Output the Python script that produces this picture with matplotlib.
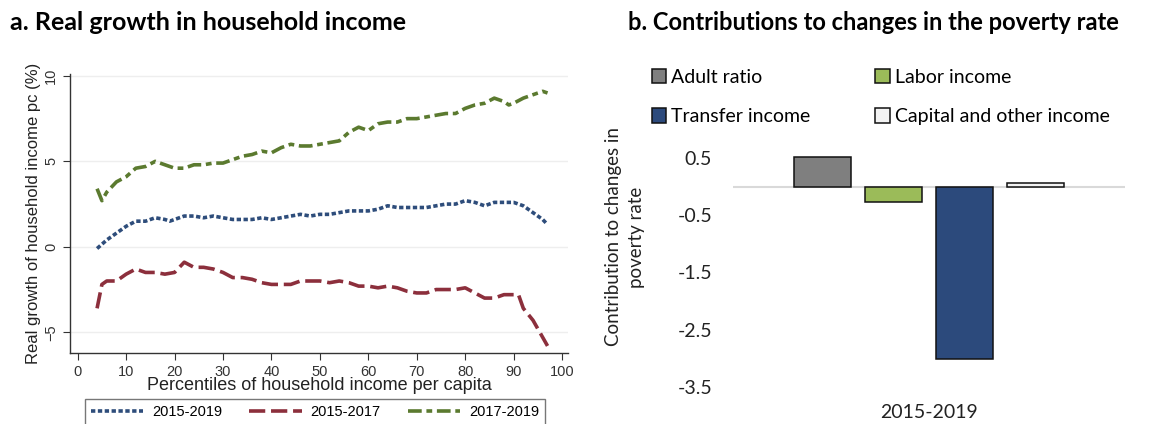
import matplotlib.pyplot as plt
from matplotlib.patches import Patch

# Panel a: real growth of household income per capita by percentile
pct_blue = [4, 6, 8, 10, 12, 14, 16, 18, 19, 20, 22, 24, 26, 28, 30, 32, 34, 36, 38, 40,
            42, 44, 46, 48, 50, 52, 54, 56, 58, 60, 62, 64, 66, 68, 70, 72, 74, 76, 78, 80,
            82, 84, 86, 88, 90, 92, 94, 96, 97]
growth_1519 = [-0.1, 0.4, 0.8, 1.2, 1.5, 1.5, 1.7, 1.6, 1.5, 1.6, 1.8, 1.8, 1.7, 1.8, 1.7, 1.6,
               1.6, 1.6, 1.7, 1.6, 1.7, 1.8, 1.9, 1.8, 1.9, 1.9, 2.0, 2.1, 2.1, 2.1, 2.2, 2.4,
               2.3, 2.3, 2.3, 2.3, 2.4, 2.5, 2.5, 2.7, 2.6, 2.4, 2.6, 2.6, 2.6, 2.4, 2.0, 1.6, 1.3]

pct_red = [4, 5, 6, 8, 10, 12, 14, 16, 18, 20, 22, 24, 26, 28, 30, 32, 34, 36, 38, 40, 42,
           44, 46, 48, 50, 52, 54, 56, 58, 60, 62, 64, 66, 68, 70, 72, 74, 76, 78, 80, 82,
           84, 86, 88, 90, 91, 92, 94, 96, 97]
growth_1517 = [-3.6, -2.2, -2.0, -2.0, -1.6, -1.3, -1.5, -1.5, -1.6, -1.5, -0.9, -1.2, -1.2,
               -1.3, -1.5, -1.8, -1.8, -1.9, -2.1, -2.2, -2.2, -2.2, -2.0, -2.0, -2.0, -2.1,
               -2.0, -2.1, -2.3, -2.3, -2.4, -2.3, -2.4, -2.6, -2.7, -2.7, -2.5, -2.5, -2.5,
               -2.4, -2.7, -3.0, -3.0, -2.8, -2.8, -2.8, -3.6, -4.3, -5.3, -5.8]

pct_green = [4, 5, 6, 8, 10, 12, 14, 16, 18, 20, 22, 24, 26, 28, 30, 32, 34, 36, 38, 40, 42,
             44, 46, 48, 50, 52, 54, 56, 58, 60, 62, 64, 66, 68, 70, 72, 74, 76, 78, 80, 82,
             84, 86, 88, 89, 90, 92, 94, 96, 97]
growth_1719 = [3.4, 2.7, 3.2, 3.8, 4.1, 4.6, 4.7, 5.0, 4.8, 4.6, 4.6, 4.8, 4.8, 4.9, 4.9, 5.1,
               5.3, 5.4, 5.6, 5.5, 5.8, 6.0, 5.9, 5.9, 6.0, 6.1, 6.2, 6.7, 7.0, 6.8, 7.2, 7.3,
               7.3, 7.5, 7.5, 7.6, 7.7, 7.8, 7.8, 8.1, 8.3, 8.4, 8.7, 8.5, 8.3, 8.4, 8.7, 8.9,
               9.1, 9.0]
series_names = ["2015-2019", "2015-2017", "2017-2019"]

# Panel b: decomposition of the change in the poverty rate
components = ["Adult ratio", "Labor income", "Transfer income", "Capital and other income"]
contributions = [0.52, -0.27, -3.01, 0.07]
bar_colors = ["#7f7f7f", "#9bbb59", "#2c4a7c", "#f2f2f2"]
period = "2015-2019"

fig = plt.figure(figsize=(11.58, 4.24), dpi=100)

# ---- panel a ----
sans = "Liberation Sans"
ax1 = fig.add_axes([0.0604, 0.168, 0.4300, 0.657])
l1, = ax1.plot(pct_blue, growth_1519, color="#2e4d7b", lw=2.6, ls=(0, (1.2, 0.7)))
l2, = ax1.plot(pct_red, growth_1517, color="#8c2f3c", lw=2.6, ls=(0, (4.5, 1.6)))
l3, = ax1.plot(pct_green, growth_1719, color="#5b7a2f", lw=2.6, ls=(0, (3.8, 1.3, 1.6, 1.3)))
ax1.set_xlim(-1.6, 101.2)
ax1.set_ylim(-6.2, 10.1)
ax1.set_xticks(range(0, 101, 10))
ax1.set_yticks([-5, 0, 5, 10])
ax1.grid(axis="y", color="#eeeeee", lw=1)
ax1.set_axisbelow(True)
for s in ["top", "right"]:
    ax1.spines[s].set_visible(False)
for s in ["left", "bottom"]:
    ax1.spines[s].set_color("#333333")
    ax1.spines[s].set_linewidth(1)
ax1.tick_params(direction="out", length=5, color="#333333", labelsize=10.5,
                labelcolor="#333333")
for lab in ax1.get_xticklabels() + ax1.get_yticklabels():
    lab.set_fontfamily(sans)
for lab in ax1.get_yticklabels():
    lab.set_rotation(90)
    lab.set_va("center")
ax1.set_xlabel("Percentiles of household income per capita", fontsize=13, family=sans,
               color="#222222", labelpad=-1)
ax1.set_ylabel("Real growth of household income pc (%)", fontsize=12, family=sans,
               color="#222222", labelpad=2)
fig.legend([l1, l2, l3], series_names,
           loc="upper left", bbox_to_anchor=(0.0734, 0.059, 0.397, 0), mode="expand",
           borderaxespad=0, ncol=3, frameon=True, fancybox=False, edgecolor="#555555",
           handlelength=3.6, prop={"family": sans, "size": 10.5}, borderpad=0.4,
           handletextpad=0.6)
fig.text(0.009, 0.948, "a. Real growth in household income", fontsize=18,
         fontweight="bold", family="Lato", va="center")

# ---- panel b ----
body = "Lato"
ax2 = fig.add_axes([0.633, 0.0873, 0.3385, 0.547])
xpos = range(len(components))
ax2.bar(xpos, contributions, width=0.8, color=bar_colors, edgecolor="#111111", lw=1.1,
        zorder=3)
ax2.axhline(0, color="#d9d9d9", lw=1.5, zorder=2)
ax2.set_xlim(-1.255, 4.255)
ax2.set_ylim(-3.5, 0.55)
ax2.set_yticks([0.5, -0.5, -1.5, -2.5, -3.5])
ax2.set_yticklabels(["0.5", "-0.5", "-1.5", "-2.5", "-3.5"])
ax2.set_xticks([])
for s in ax2.spines.values():
    s.set_visible(False)
ax2.tick_params(axis="y", length=0, labelsize=14, pad=15, labelcolor="#222222")
for lab in ax2.get_yticklabels():
    lab.set_fontfamily(body)
ax2.text(1.5, -3.95, period, ha="center", va="center", fontsize=14, family=body,
         color="#222222")
ax2.set_ylabel("Contribution to changes in\npoverty rate", fontsize=13.5, family=body,
               color="#222222", linespacing=1.45)
ax2.yaxis.set_label_coords(-0.2245, 0.647)
# legend filled row by row: Adult / Labor, then Transfer / Capital
handles = [Patch(facecolor=c, edgecolor="#111111", lw=1.1) for c in bar_colors]
order = [0, 2, 1, 3]
fig.legend([handles[i] for i in order], [components[i] for i in order],
           loc="upper left", bbox_to_anchor=(0.5475, 0.879),
           ncol=2, frameon=False, prop={"family": body, "size": 14}, handlelength=0.75,
           handleheight=0.75, handletextpad=0.25, columnspacing=3.35, labelspacing=1.15)
fig.text(0.542, 0.948, "b. Contributions to changes in the poverty rate", fontsize=17,
         fontweight="bold", family="Lato", va="center")

fig.savefig("out.png", dpi=100)
